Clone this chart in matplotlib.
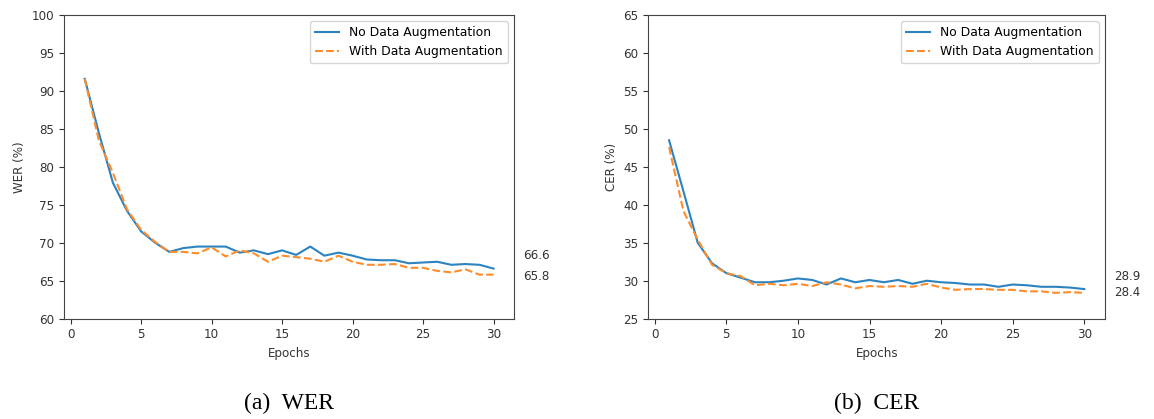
import numpy as np
import matplotlib
matplotlib.use("Agg")
import matplotlib.pyplot as plt

epochs = np.arange(1, 31)

wer_no_aug = [91.6, 84.5, 77.9, 74.2, 71.5, 70.0, 68.8, 69.3, 69.5, 69.5,
              69.5, 68.7, 69.0, 68.5, 69.0, 68.4, 69.5, 68.3, 68.7, 68.3,
              67.8, 67.7, 67.7, 67.3, 67.4, 67.5, 67.1, 67.2, 67.1, 66.6]
wer_with_aug = [91.6, 83.5, 79.2, 74.4, 71.7, 70.1, 68.8, 68.8, 68.6, 69.4,
                68.2, 69.0, 68.6, 67.5, 68.3, 68.1, 67.9, 67.5, 68.3, 67.5,
                67.1, 67.1, 67.2, 66.7, 66.7, 66.3, 66.1, 66.5, 65.8, 65.8]

cer_no_aug = [48.5, 41.8, 35.0, 32.3, 31.0, 30.4, 29.8, 29.8, 30.0, 30.3,
              30.1, 29.5, 30.3, 29.8, 30.1, 29.8, 30.1, 29.6, 30.0, 29.8,
              29.7, 29.5, 29.5, 29.2, 29.5, 29.4, 29.2, 29.2, 29.1, 28.9]
cer_with_aug = [47.6, 39.2, 35.4, 32.1, 31.0, 30.6, 29.4, 29.6, 29.4, 29.6,
                29.3, 29.8, 29.5, 29.0, 29.3, 29.2, 29.3, 29.2, 29.6, 29.1,
                28.8, 28.9, 28.9, 28.8, 28.8, 28.6, 28.6, 28.4, 28.5, 28.4]

wer_final = ["66.6", "65.8"]
cer_final = ["28.9", "28.4"]

fs = 8.6
fig = plt.figure(figsize=(11.54, 4.19), dpi=100)
ax1 = fig.add_axes([0.0557, 0.2394, 0.3897, 0.7248])
ax2 = fig.add_axes([0.5618, 0.2394, 0.3958, 0.7248])


def draw(ax, no_aug, with_aug, ylim, ylabel, finals, text_y, caption):
    ax.plot(epochs, no_aug, color="#2b83c0", lw=1.5, label="No Data Augmentation")
    ax.plot(epochs, with_aug, color="#ff8c2a", lw=1.5, ls="--", label="With Data Augmentation")
    ax.set_ylim(ylim)
    ax.set_yticks(np.arange(ylim[0], ylim[1] + 1, 5))
    ax.set_xticks([0, 5, 10, 15, 20, 25, 30])
    ax.tick_params(labelsize=fs, colors="#333333", labelcolor="#333333")
    for s in ax.spines.values():
        s.set_color("#444444")
    ax.set_xlabel("Epochs", fontsize=fs, color="#333333")
    ax.set_ylabel(ylabel, fontsize=fs, color="#333333")
    ax.legend(loc="upper right", fontsize=8.9)
    for t, y in zip(finals, text_y):
        ax.text(32.1, y, t, fontsize=fs, color="#333333", va="center", clip_on=False)
    ax.text(0.5, -0.28, caption, transform=ax.transAxes, ha="center", va="center",
            fontsize=17, family="Liberation Serif")


draw(ax1, wer_no_aug, wer_with_aug, (60, 100), "WER (%)", wer_final, [68.3, 65.5], "(a)  WER")
draw(ax2, cer_no_aug, cer_with_aug, (25, 65), "CER (%)", cer_final, [30.5, 28.4], "(b)  CER")

fig.savefig("out.png", dpi=100)
